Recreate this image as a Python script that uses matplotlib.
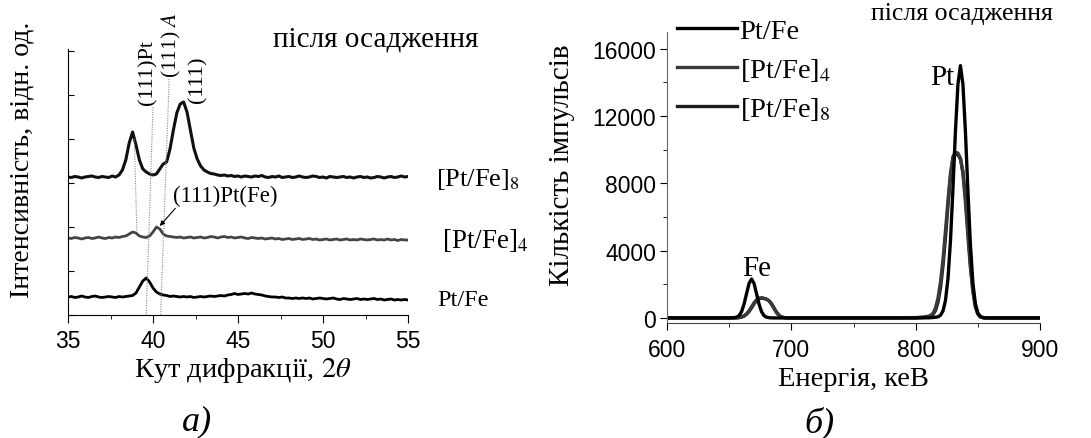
import numpy as np
import matplotlib
matplotlib.use('Agg')
import matplotlib.pyplot as plt
from matplotlib.ticker import MultipleLocator, NullFormatter

plt.rcParams['font.family'] = ['Liberation Serif', 'DejaVu Serif']
plt.rcParams['mathtext.fontset'] = 'stix'

# --- XRD data (a), intensity in arbitrary units ---
two_theta = np.round(np.arange(35.0, 55.01, 0.2), 1)

xrd_ptfe = [18, 18.5, 17.5, 18, 19, 18, 17.5, 18.5, 19, 18,
            17.5, 18, 18.5, 18, 17.5, 18.5, 18, 18.5, 19, 19.5,
            22, 28, 34, 37, 33, 27, 23, 21, 20, 19.5,
            18.5, 19, 18.5, 18, 18.5, 18, 18.5, 17.5, 18, 18.5,
            18, 18.5, 19, 18.5, 19, 19.5, 19, 20, 20.5, 21.5,
            20.5, 21, 21.5, 21, 22, 21, 20.5, 20, 19, 18.5,
            18, 18, 17.5, 18, 17, 17, 16.5, 17, 16.5, 17,
            16.5, 17, 16, 16.5, 17, 16.5, 16, 16.5, 17, 16,
            15.5, 16.5, 16, 15.5, 16, 16.5, 15.5, 16, 15.5, 16,
            16.5, 15.5, 16, 15, 15.5, 16, 15, 15.5, 15, 15.5, 15]

xrd_ptfe4 = [77, 76.5, 77.5, 77, 76, 77, 77.5, 76.5, 77, 78,
             77, 76.5, 77.5, 77, 78, 77.5, 78.5, 79, 81, 83,
             82, 79, 78, 77.5, 79, 83, 88, 86, 81, 79,
             78.5, 78, 77.5, 78, 77, 77.5, 78, 77, 77.5, 78,
             77, 77.5, 78.5, 78, 77, 78, 78.5, 77.5, 78, 77,
             77.5, 78, 77, 76.5, 77.5, 77, 76.5, 77, 76, 76.5,
             77, 76, 76.5, 75.5, 76, 76.5, 75.5, 76, 76.5, 75.5,
             76, 76.5, 75.5, 76, 75, 75.5, 76, 75, 75.5, 76,
             75, 75.5, 76, 75, 75.5, 75, 76, 75.5, 75, 75.5,
             76, 75, 75.5, 75, 76, 75, 75.5, 74.5, 75.5, 75, 75]

xrd_ptfe8 = [138, 137.5, 138.5, 138, 137, 138, 138.5, 139, 138, 137.5,
             138.5, 138, 137.5, 139, 138, 140, 145, 155, 172, 183,
             170, 155, 146, 143, 141, 140, 141, 146, 151, 153,
             166, 185, 202, 211, 213, 203, 185, 167, 156, 149,
             145, 143, 141.5, 141, 140, 139.5, 140, 139, 139.5, 138.5,
             139, 138, 139, 138.5, 138, 139, 138.5, 139.5, 138, 137.5,
             138.5, 138, 139, 137.5, 138, 138.5, 137.5, 138, 139, 138,
             137.5, 138, 139, 138.5, 137.5, 138, 137, 138.5, 138, 137.5,
             138, 138.5, 137.5, 138, 137, 138, 138.5, 137.5, 138, 137,
             137.5, 138.5, 138, 137, 138, 138.5, 137.5, 138, 139, 138, 138.5]

# guide lines (2theta top, I top, 2theta bottom, I bottom)
guide_lines = [(38.9, 176, 39.05, 84),
               (40.0, 208, 39.6, 0),
               (40.95, 236, 40.45, 0)]

# --- EDS data (б) ---
energy = [600, 640, 650, 654, 656, 658, 660, 662, 664, 666, 668, 670, 672, 674,
          676, 678, 680, 682, 684, 686, 688, 690, 692, 694, 698, 710, 760, 800,
          806, 810, 812, 814, 816, 818, 820, 822, 824, 826, 828, 830, 832, 834,
          836, 838, 840, 842, 844, 846, 848, 850, 852, 854, 856, 860, 900]

counts_ptfe = [0, 0, 5, 20, 45, 140, 380, 830, 1450, 2050, 2320, 2050, 1450, 830,
               380, 140, 45, 15, 5, 0, 0, 0, 0, 0, 0, 0, 0, 0,
               5, 10, 15, 25, 40, 70, 160, 420, 1050, 2350, 4600, 7700, 11100, 13900,
               15000, 13900, 11100, 7600, 4400, 2100, 850, 300, 90, 25, 5, 0, 0]

counts_ptfe4 = [0, 0, 0, 5, 10, 25, 60, 130, 250, 430, 660, 900, 1080, 1180,
                1200, 1170, 1120, 1020, 820, 560, 320, 150, 60, 20, 0, 0, 0, 20,
                50, 100, 150, 280, 600, 1200, 2150, 3500, 5200, 7000, 8600, 9600, 9850, 9800,
                9500, 8600, 6900, 4900, 3000, 1550, 650, 220, 60, 15, 0, 0, 0]

counts_ptfe8 = [0, 0, 0, 0, 5, 20, 50, 110, 220, 380, 600, 840, 1030, 1140,
                1180, 1160, 1110, 1030, 860, 610, 360, 170, 70, 25, 0, 0, 0, 10,
                30, 70, 110, 210, 450, 950, 1800, 3100, 4800, 6700, 8400, 9500, 9750, 9700,
                9450, 8700, 7200, 5200, 3200, 1700, 720, 250, 70, 20, 0, 0, 0]

W, H = 1091, 439
SANS = 'Liberation Sans'

fig = plt.figure(figsize=(W / 100, H / 100), dpi=100)

# ---------------- panel a ----------------
ax1 = fig.add_axes([68 / W, 1 - 316 / H, 340 / W, 266 / H])
ax1.plot(two_theta, xrd_ptfe, color='#000000', lw=2.0)
ax1.plot(two_theta, xrd_ptfe4, color='#454545', lw=2.0)
ax1.plot(two_theta, xrd_ptfe8, color='#101010', lw=2.2)
for x0, y0, x1, y1 in guide_lines:
    ax1.plot([x0, x1], [y0, y1], color='#888888', lw=0.8, ls=(0, (1, 1.2)))

ax1.set_xlim(35, 55)
ax1.set_ylim(0, 266)
ax1.spines['top'].set_visible(False)
ax1.spines['right'].set_visible(False)
ax1.xaxis.set_major_locator(MultipleLocator(5))
ax1.xaxis.set_minor_locator(MultipleLocator(2.5))
ax1.yaxis.set_major_locator(MultipleLocator(44))
ax1.yaxis.set_major_formatter(NullFormatter())
ax1.tick_params(axis='x', which='major', direction='out', length=6, pad=4, labelsize=16.5)
ax1.tick_params(axis='x', which='minor', direction='out', length=3)
ax1.tick_params(axis='y', direction='in', length=4)
for lab in ax1.get_xticklabels():
    lab.set_fontfamily(SANS)

ax1.set_xlabel(r'Кут дифракції, $2\theta$', fontsize=20.5)
ax1.xaxis.set_label_coords(0.515, -0.205)
ax1.xaxis.label.set_verticalalignment('center')
ax1.set_ylabel('Інтенсивність, відн. од.', fontsize=20)
ax1.yaxis.label.set_verticalalignment('center')
ax1.yaxis.set_label_coords(-0.135, 0.587)

ax1.text(56.65, 136, r'[Pt/Fe]$_8$', fontsize=19, va='center', clip_on=False)
ax1.text(57.0, 75, r'[Pt/Fe]$_4$', fontsize=19.5, va='center', clip_on=False)
ax1.text(56.7, 15, 'Pt/Fe', fontsize=17.5, va='center', clip_on=False)

ax1.text(39.7, 211, '(111)Pt', rotation=90, fontsize=16, ha='center', va='bottom')
ax1.text(41.1, 238, r'(111) $A$', rotation=90, fontsize=15.5, ha='center', va='bottom', clip_on=False)
ax1.text(42.65, 213, '(111)', rotation=90, fontsize=16, ha='center', va='bottom')
ax1.annotate('(111)Pt(Fe)', xy=(40.4, 89), xytext=(41.15, 120), fontsize=16.5,
             va='center', ha='left',
             arrowprops=dict(arrowstyle='-|>', color='black', lw=0.8,
                             mutation_scale=7, shrinkA=0, shrinkB=0,
                             relpos=(0.05, 0.0)))

fig.text(376 / W, 1 - 40 / H, 'після осадження', fontsize=21, ha='center', va='center')
fig.text(197 / W, 1 - 422 / H, 'а)', fontsize=26, style='italic', ha='center', va='center')

# ---------------- panel б ----------------
ax2 = fig.add_axes([667 / W, 1 - 324 / H, 373 / W, 291 / H])
ax2.plot(energy, counts_ptfe8, color='#1e1e1e', lw=2.4, label=r'[Pt/Fe]$_8$')
ax2.plot(energy, counts_ptfe4, color='#3a3a3a', lw=2.4, label=r'[Pt/Fe]$_4$')
ax2.plot(energy, counts_ptfe, color='#000000', lw=2.4, label='Pt/Fe')

ax2.set_xlim(600, 900)
ax2.set_ylim(-300, 17000)
ax2.spines['top'].set_visible(False)
ax2.spines['right'].set_visible(False)
ax2.spines['left'].set_color('#666666')
ax2.spines['bottom'].set_color('#444444')
ax2.xaxis.set_major_locator(MultipleLocator(100))
ax2.xaxis.set_minor_locator(MultipleLocator(50))
ax2.yaxis.set_major_locator(MultipleLocator(4000))
ax2.yaxis.set_minor_locator(MultipleLocator(2000))
ax2.tick_params(axis='x', which='major', direction='out', length=5, pad=6, labelsize=16.5)
ax2.tick_params(axis='y', which='major', direction='out', length=5, pad=3, labelsize=16.5)
ax2.tick_params(which='minor', direction='out', length=3)
for lab in ax2.get_xticklabels() + ax2.get_yticklabels():
    lab.set_fontfamily(SANS)

ax2.set_xlabel('Енергія, кеВ', fontsize=20.5)
ax2.xaxis.set_label_coords(0.5, -0.19)
ax2.xaxis.label.set_verticalalignment('center')
ax2.set_ylabel('Кількість імпульсів', fontsize=21)
ax2.yaxis.label.set_verticalalignment('center')
ax2.yaxis.set_label_coords(-0.281, 0.545)

handles, labels = ax2.get_legend_handles_labels()
ax2.legend(handles[::-1], labels[::-1], loc='upper left', frameon=False,
           bbox_to_anchor=(677 / W, 1 - 19 / H), bbox_transform=fig.transFigure,
           fontsize=20.5, handlelength=2.1, handletextpad=0.1, labelspacing=0.42,
           borderpad=0, borderaxespad=0)

ax2.text(672, 2950, 'Fe', fontsize=21, ha='center', va='center')
ax2.text(831, 14300, 'Pt', fontsize=21, ha='right', va='center')
fig.text(962 / W, 1 - 14 / H, 'після осадження', fontsize=18.5, ha='center', va='center')
fig.text(819 / W, 1 - 423 / H, 'б)', fontsize=26, style='italic', ha='center', va='center')

fig.savefig('out.png', dpi=100)
